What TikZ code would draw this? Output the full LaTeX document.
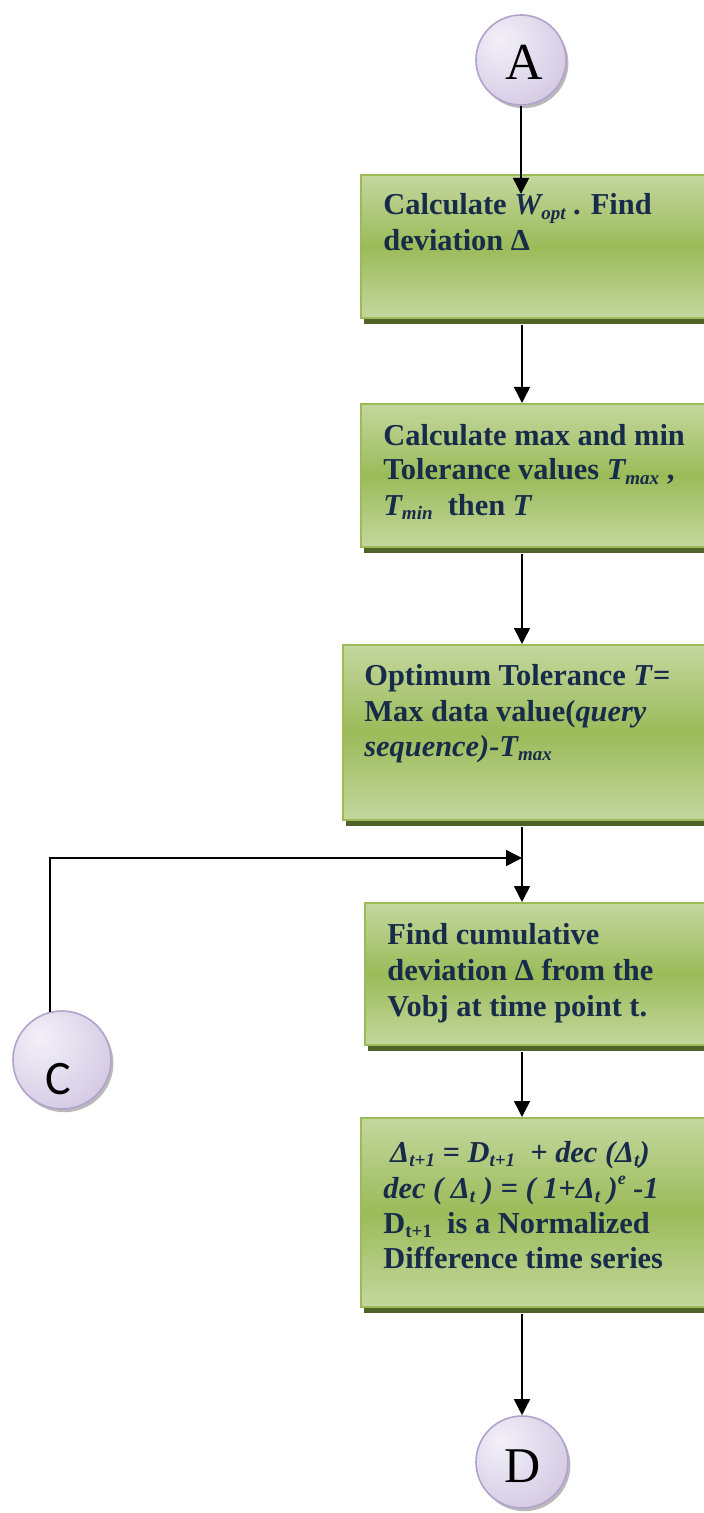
\documentclass[tikz,border=0pt]{standalone}
\usepackage{fontspec}
\setmainfont{Liberation Serif}
\newfontfamily\calfont{Carlito}
\usetikzlibrary{arrows.meta,shadows}

\definecolor{boxedge}{RGB}{155,187,89}
\definecolor{boxlight}{RGB}{196,215,158}
\definecolor{boxmid}{RGB}{155,187,89}
\definecolor{boxshadow}{RGB}{79,98,40}
\definecolor{ink}{HTML}{172B4A}
\definecolor{circlight}{RGB}{243,240,248}
\definecolor{circmid}{RGB}{224,217,236}
\definecolor{circdark}{RGB}{193,180,215}
\definecolor{circedge}{RGB}{178,162,204}

\pgfdeclareradialshading{discshade}{\pgfpoint{-12bp}{12bp}}{%
  color(0bp)=(circlight); color(22bp)=(circmid); color(55bp)=(circdark); color(80bp)=(circdark)}

% lowered and raised indices for the formulas
\newcommand\lowidx[1]{\raisebox{-0.35ex}{\fontsize{9.5}{10}\selectfont #1}}
\newcommand\highidx[1]{\raisebox{0.95ex}{\fontsize{9}{10}\selectfont #1}}

\tikzset{
  stepbox/.style={rectangle, draw=boxedge, line width=1pt,
    top color=boxlight, bottom color=boxlight, middle color=boxmid,
    drop shadow={shadow xshift=1.5pt, shadow yshift=-3pt, fill=boxshadow, opacity=1}},
  disc/.style={circle, draw=circedge, line width=0.8pt, shading=discshade,
    drop shadow={shadow xshift=1.2pt, shadow yshift=-1.6pt, fill=gray!55, opacity=1}},
  txt/.style={inner sep=0pt, anchor=base west, text=ink,
    font=\fontsize{15.2}{17.5}\selectfont\bfseries},
  flow/.style={line width=0.75pt, draw=black},
  arr/.style={flow, -{Triangle[width=8pt,length=8pt]}},
}

\begin{document}
\begin{tikzpicture}[x=0.5pt,y=-0.5pt]
\useasboundingbox (0,0) rectangle (704,1513);
\coordinate (spine) at (522,0);

% connectors
\node[disc, minimum size=90pt/2] (A) at (521,60) {};
\node[disc, minimum size=98pt/2] (C) at (62,1060) {};
\node[disc, minimum size=92pt/2] (D) at (522,1462) {};

\node[font=\fontsize{26}{26}\selectfont] (Alab) at (524,62) {A};
\node[font=\calfont\fontsize{24}{24}\selectfont] (Clab) at (58,1079) {C};
\node[font=\fontsize{25}{25}\selectfont] (Dlab) at (523,1466) {D};

% process steps
\node[stepbox, minimum width=179.5pt, minimum height=71.5pt] (b1) at (540.5,246.5) {};
\node[stepbox, minimum width=179.5pt, minimum height=71.5pt] (b2) at (540.5,475.5) {};
\node[stepbox, minimum width=188.5pt, minimum height=87.5pt] (b3) at (531.5,732.5) {};
\node[stepbox, minimum width=177.5pt, minimum height=71pt] (b4) at (542.5,974) {};
\node[stepbox, minimum width=179.5pt, minimum height=94.5pt] (b5) at (540.5,1212.5) {};

% step texts
\node[txt] (t11) at (383,215) {Calculate \textit{W\lowidx{opt}} . Find};
\node[txt] (t12) at (383,251) {deviation Δ};

\node[txt] (t21) at (383,445) {Calculate max and min};
\node[txt] (t22) at (383,480) {Tolerance values \textit{T\lowidx{max}} ,};
\node[txt] (t23) at (383,515) {\textit{T\lowidx{min}}\ \ then \textit{T}};

\node[txt] (t31) at (364,685) {Optimum Tolerance \textit{T}=};
\node[txt] (t32) at (364,721) {Max data value(\textit{query}};
\node[txt] (t33) at (364,756) {\textit{sequence)-T\lowidx{max}}};

\node[txt] (t41) at (387,944) {Find cumulative};
\node[txt] (t42) at (387,980) {deviation Δ from the};
\node[txt] (t43) at (387,1016) {Vobj at time point t.};

\node[txt] (t51) at (390,1162) {\textit{Δ\lowidx{t+1} = D\lowidx{t+1}\ \ + dec (Δ\lowidx{t})}};
\node[txt] (t52) at (383,1198) {\textit{dec ( Δ\lowidx{t} ) = ( 1+Δ\lowidx{t} )\highidx{e} -1}};
\node[txt] (t53) at (383,1233) {D\lowidx{t+1}\ \ is a Normalized};
\node[txt] (t54) at (383,1268) {Difference time series};

% flow lines
\coordinate (j) at (522,858);
\draw[arr] (A.south) -- ([yshift=-10pt]A |- b1.north);
\draw[arr] ([yshift=-3pt]b1.south -| spine) -- (b2.north -| spine);
\draw[arr] ([yshift=-3pt]b2.south -| spine) -- (b3.north -| spine);
\draw[flow] ([yshift=-3pt]b3.south -| spine) -- (j);
\draw[arr] (j) -- (b4.north -| spine);
\draw[arr] (C.104) |- (j);
\draw[arr] ([yshift=-3pt]b4.south -| spine) -- (b5.north -| spine);
\draw[arr] ([yshift=-3pt]b5.south -| spine) -- (D.north);
\end{tikzpicture}
\end{document}
